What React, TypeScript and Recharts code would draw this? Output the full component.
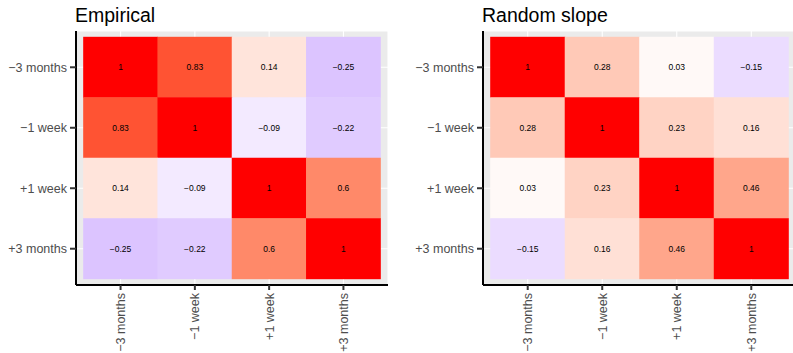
import { CartesianGrid, Scatter, ScatterChart, XAxis, YAxis } from "recharts";

const timeLabels = ["\u22123 months", "\u22121 week", "+1 week", "+3 months"];

const empiricalRows = [
  [1, 0.83, 0.14, -0.25],
  [0.83, 1, -0.09, -0.22],
  [0.14, -0.09, 1, 0.6],
  [-0.25, -0.22, 0.6, 1],
];

const randomSlopeRows = [
  [1, 0.28, 0.03, -0.15],
  [0.28, 1, 0.23, 0.16],
  [0.03, 0.23, 1, 0.46],
  [-0.15, 0.16, 0.46, 1],
];

const FONT = "'Liberation Sans', Arial, Helvetica, sans-serif";
const HEIGHT = 353;
const TOP = 31;
const X_AXIS_H = 68;
const DOMAIN: [number, number] = [0.4, 4.6];

// white -> red / white -> blue, interpolated in Lab like ggplot's gradient2
const RED_LAB = [53.24, 80.09, 67.2];
const BLUE_LAB = [32.3, 79.19, -107.86];

const labToHex = (L: number, a: number, b: number) => {
  const fy = (L + 16) / 116;
  const fx = fy + a / 500;
  const fz = fy - b / 200;
  const inv = (t: number) =>
    t > 6 / 29 ? t * t * t : 3 * (6 / 29) * (6 / 29) * (t - 4 / 29);
  const X = 0.95047 * inv(fx);
  const Y = inv(fy);
  const Z = 1.08883 * inv(fz);
  const lin = [
    3.2406 * X - 1.5372 * Y - 0.4986 * Z,
    -0.9689 * X + 1.8758 * Y + 0.0415 * Z,
    0.0557 * X - 0.204 * Y + 1.057 * Z,
  ];
  return (
    "#" +
    lin
      .map((c) => {
        const v = c <= 0.0031308 ? 12.92 * c : 1.055 * Math.pow(c, 1 / 2.4) - 0.055;
        const n = Math.round(Math.min(1, Math.max(0, v)) * 255);
        return n.toString(16).padStart(2, "0");
      })
      .join("")
  );
};

const fillFor = (v: number) => {
  const t = Math.min(1, Math.abs(v));
  const end = v >= 0 ? RED_LAB : BLUE_LAB;
  return labToHex(100 + (end[0] - 100) * t, end[1] * t, end[2] * t);
};

const fmt = (v: number) => String(v).replace("-", "\u2212");

type HeatmapProps = {
  title: string;
  rows: number[][];
  left: number;
  width: number;
  yAxisWidth: number;
  marginRight: number;
};

const Heatmap = ({ title, rows, left, width, yAxisWidth, marginRight }: HeatmapProps) => {
  const data = rows.flatMap((r, ri) => r.map((v, ci) => ({ x: ci + 1, y: ri + 1, v })));
  const plotW = width - yAxisWidth - marginRight;
  const plotH = HEIGHT - TOP - X_AXIS_H;
  const span = DOMAIN[1] - DOMAIN[0];
  const cw = plotW / span;
  const ch = plotH / span;

  const XTick = (props: any) => {
    const { x, y, payload } = props;
    return (
      <text
        x={x}
        y={y}
        transform={`rotate(-90, ${x}, ${y})`}
        textAnchor="end"
        dy="0.35em"
        fill="#4D4D4D"
        fontSize={12.5}
        fontFamily={FONT}
      >
        {timeLabels[payload.value - 1]}
      </text>
    );
  };

  return (
    <div style={{ position: "absolute", left, top: 0, width, height: HEIGHT }}>
      <div
        style={{
          position: "absolute",
          left: yAxisWidth - 1,
          top: 5.5,
          fontFamily: FONT,
          fontSize: 19.5,
          lineHeight: 1,
          color: "#000",
          whiteSpace: "nowrap",
        }}
      >
        {title}
      </div>
      <ScatterChart
        width={width}
        height={HEIGHT}
        margin={{ top: TOP, right: marginRight, bottom: 0, left: 0 }}
      >
        <CartesianGrid fill="#EBEBEB" stroke="#FFFFFF" strokeWidth={1.1} />
        <XAxis
          type="number"
          dataKey="x"
          domain={DOMAIN}
          ticks={[1, 2, 3, 4]}
          allowDataOverflow
          height={X_AXIS_H}
          axisLine={{ stroke: "#000", strokeWidth: 2 }}
          tickLine={{ stroke: "#333", strokeWidth: 2 }}
          tickSize={5}
          tickMargin={3}
          tick={<XTick />}
          interval={0}
        />
        <YAxis
          type="number"
          dataKey="y"
          domain={DOMAIN}
          ticks={[1, 2, 3, 4]}
          reversed
          allowDataOverflow
          width={yAxisWidth}
          axisLine={{ stroke: "#000", strokeWidth: 2 }}
          tickLine={{ stroke: "#333", strokeWidth: 2 }}
          tickSize={6}
          tickMargin={3}
          interval={0}
          tickFormatter={(i: number) => timeLabels[i - 1]}
          tick={{ fill: "#4D4D4D", fontSize: 12.5, fontFamily: FONT }}
        />
        <Scatter
          data={data}
          isAnimationActive={false}
          shape={(p: any) => (
            <g>
              <rect
                x={p.cx - cw / 2 - 0.25}
                y={p.cy - ch / 2 - 0.25}
                width={cw + 0.5}
                height={ch + 0.5}
                fill={fillFor(p.payload.v)}
              />
              <text
                x={p.cx}
                y={p.cy}
                textAnchor="middle"
                dominantBaseline="central"
                fontSize={8.5}
                fontFamily={FONT}
                fill="#000"
              >
                {fmt(p.payload.v)}
              </text>
            </g>
          )}
        />
      </ScatterChart>
    </div>
  );
};

export default function App() {
  return (
    <div
      style={{
        position: "absolute",
        left: 0,
        top: 0,
        width: 793,
        height: HEIGHT,
        overflow: "hidden",
        background: "#fff",
      }}
    >
      <Heatmap title="Empirical" rows={empiricalRows} left={0} width={395} yAxisWidth={76} marginRight={7} />
      <Heatmap title="Random slope" rows={randomSlopeRows} left={400} width={400} yAxisWidth={83} marginRight={4} />
    </div>
  );
}
